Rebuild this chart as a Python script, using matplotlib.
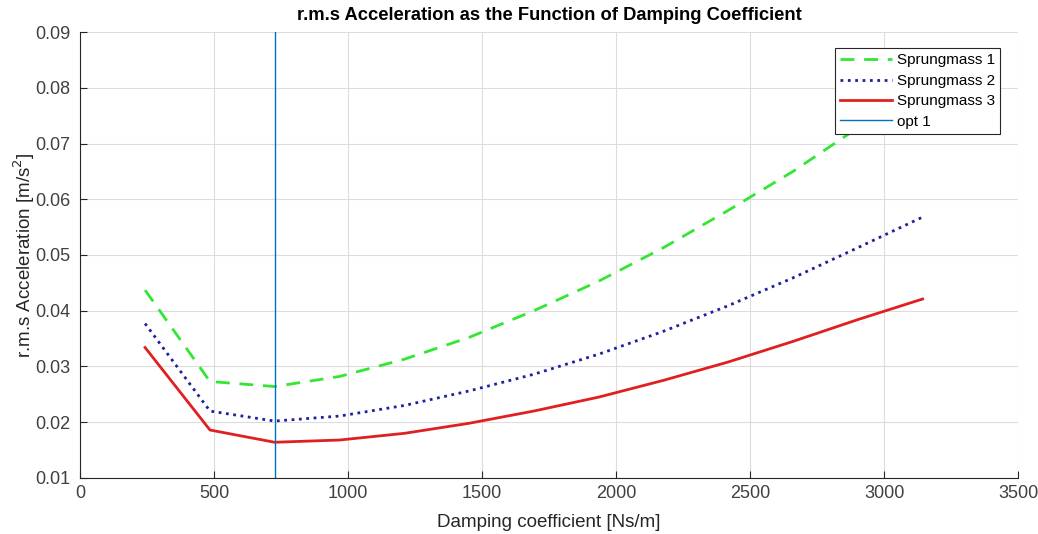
import numpy as np
import matplotlib
matplotlib.use('Agg')
import matplotlib.pyplot as plt

plt.rcParams['font.family'] = ['Liberation Sans', 'DejaVu Sans']

# damping coefficient values [Ns/m]
damping = [243, 485, 726, 968, 1210, 1451, 1693, 1935, 2176, 2418, 2660, 2901, 3143]

# r.m.s acceleration for each sprung mass [m/s^2]
mass1 = [0.0437, 0.0273, 0.0264, 0.0282, 0.0313, 0.0352, 0.0400, 0.0453,
         0.0513, 0.0580, 0.0650, 0.0728, 0.0810]
mass2 = [0.0377, 0.0220, 0.0202, 0.0211, 0.0230, 0.0256, 0.0286, 0.0322,
         0.0363, 0.0409, 0.0459, 0.0513, 0.0568]
mass3 = [0.0334, 0.0186, 0.0164, 0.0168, 0.0180, 0.0198, 0.0220, 0.0245,
         0.0275, 0.0308, 0.0345, 0.0384, 0.0421]

opt_damping = 726

fig = plt.figure(figsize=(10.38, 5.34), dpi=100)
ax = fig.add_axes([0.077, 0.105, 0.904, 0.835])

ax.plot(damping, mass1, '--', color='#33e633', lw=2, dashes=(5, 3.5), label='Sprungmass 1')
ax.plot(damping, mass2, ':', color='#1f1fa0', lw=2, label='Sprungmass 2')
ax.plot(damping, mass3, '-', color='#e02020', lw=2, label='Sprungmass 3')
ax.axvline(opt_damping, color='#0072bd', lw=1, label='opt 1')

ax.set_xlim(0, 3500)
ax.set_ylim(0.01, 0.09)
ax.set_xticks(np.arange(0, 3501, 500))
ax.set_yticks(np.arange(0.01, 0.0901, 0.01))
ax.set_yticklabels(['%.2f' % v for v in np.arange(0.01, 0.0901, 0.01)])

ax.grid(True, color='#dcdcdc', lw=0.8)
ax.set_axisbelow(True)
for s in ['top', 'right']:
    ax.spines[s].set_visible(False)
for s in ['left', 'bottom']:
    ax.spines[s].set_color('#262626')
ax.tick_params(direction='in', length=5, labelsize=13, colors='#262626',
               labelcolor='#404040')
ax.tick_params(axis='y', pad=7)
ax.tick_params(axis='x', pad=5)

ax.set_title('r.m.s Acceleration as the Function of Damping Coefficient',
             fontsize=13.2, fontweight='bold', pad=9)
ax.set_xlabel('Damping coefficient [Ns/m]', fontsize=13.5, color='#262626', labelpad=9)
ax.set_ylabel('r.m.s Acceleration [m/s$^2$]', fontsize=13.5, color='#262626')
ax.yaxis.set_label_coords(-0.046, 0.5)

leg = ax.legend(loc='upper right', bbox_to_anchor=(0.981, 0.964), fontsize=11,
                fancybox=False, framealpha=1, edgecolor='#262626',
                handlelength=3.4, borderpad=0.35, labelspacing=0.42,
                handletextpad=0.3, borderaxespad=0)
leg.get_frame().set_linewidth(0.8)

fig.savefig('out.png', dpi=100)
